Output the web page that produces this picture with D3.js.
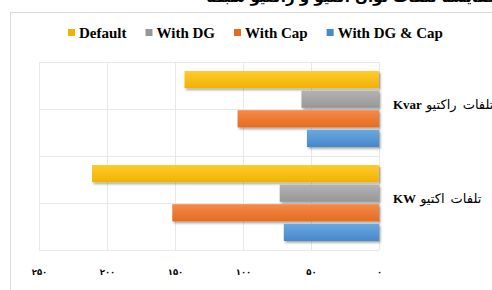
<!DOCTYPE html>
<html>
<head>
<meta charset="utf-8">
<script src="https://cdn.jsdelivr.net/npm/d3@7"></script>
<style>
  body { margin: 0; background: #fff; overflow: hidden; }
  svg { display: block; }
</style>
</head>
<body>
<div id="chart"></div>
<script>
// categories top to bottom: unit part and Persian part of each label
const categories = ["Kvar", "KW"];
const categoryFa = ["تلفات راکتیو", "تلفات اکتیو"];
const seriesNames = ["Default", "With DG", "With Cap", "With DG & Cap"];
const seriesColors = [["#ffcb2e", "#efb300"], ["#b3b3b3", "#979797"], ["#f58a48", "#e46c20"], ["#6aa8de", "#4688cb"]];
const defaultVals = [143, 211];
const withDG = [57, 73];
const withCap = [104, 152];
const withDGCap = [53, 70];
const xTicks = [0, 50, 100, 150, 200, 250];
const faDigits = "۰۱۲۳۴۵۶۷۸۹";

const values = [defaultVals, withDG, withCap, withDGCap];
const W = 492, H = 290;
const margin = { top: 62, left: 39, right: 113, bottom: 40 };
const innerW = W - margin.left - margin.right,
  innerH = H - margin.top - margin.bottom;

const svg = d3.select("#chart").append("svg")
  .attr("width", W)
  .attr("height", H);

const defs = svg.append("defs");
seriesColors.forEach((c, i) => {
  const g = defs.append("linearGradient")
    .attr("id", "grad" + i)
    .attr("x1", 0).attr("y1", 0).attr("x2", 0).attr("y2", 1);
  g.append("stop").attr("offset", "0%").attr("stop-color", c[0]);
  g.append("stop").attr("offset", "100%").attr("stop-color", c[1]);
});
defs.append("filter").attr("id", "shadow")
  .attr("x", "-5%").attr("y", "-20%").attr("width", "115%").attr("height", "160%")
  .append("feDropShadow")
  .attr("dx", 1.5).attr("dy", 1.8).attr("stdDeviation", 1)
  .attr("flood-color", "#000").attr("flood-opacity", 0.35);

// chart frame (runs past the window on right and bottom)
svg.append("rect")
  .attr("x", 10.5).attr("y", 12.5)
  .attr("width", 500).attr("height", 300)
  .attr("fill", "none")
  .attr("stroke", "#d9d9d9");

// title, mostly cut by the top edge as in the picture
svg.append("text")
  .attr("x", 352).attr("y", 2)
  .attr("text-anchor", "middle")
  .style("font-family", "'DejaVu Sans', sans-serif")
  .style("font-weight", "bold")
  .style("font-size", "15px")
  .text("مقایسه تلفات توان اکتیو و راکتیو شبکه");

const g = svg.append("g")
  .attr("transform", "translate(" + margin.left + "," + margin.top + ")");

const x = d3.scaleLinear().domain([0, 250]).range([innerW, 0]);
const y0 = d3.scaleBand().domain(categories).range([0, innerH]);
const y1 = d3.scaleBand().domain(seriesNames)
  .range([9, y0.bandwidth() - 9])
  .paddingInner(0.12);

// vertical gridlines
g.append("g")
  .selectAll("line")
  .data(xTicks)
  .join("line")
  .attr("x1", d => Math.round(x(d)) + 0.5)
  .attr("x2", d => Math.round(x(d)) + 0.5)
  .attr("y1", 0).attr("y2", innerH)
  .attr("stroke", "#e8e8e8");

// horizontal gridlines at category edges and middles
const hLines = [];
categories.forEach(c => {
  hLines.push(y0(c));
  hLines.push(y0(c) + y0.bandwidth() / 2);
});
hLines.push(innerH);
g.append("g")
  .selectAll("line")
  .data(hLines)
  .join("line")
  .attr("x1", 0).attr("x2", innerW)
  .attr("y1", d => Math.round(d) + 0.5)
  .attr("y2", d => Math.round(d) + 0.5)
  .attr("stroke", "#e8e8e8");

// bars
seriesNames.forEach((s, i) => {
  g.append("g")
    .attr("filter", "url(#shadow)")
    .selectAll("rect")
    .data(categories.map((c, j) => ({ c: c, v: values[i][j] })))
    .join("rect")
    .attr("x", d => x(d.v))
    .attr("y", d => y0(d.c) + y1(s))
    .attr("width", d => x(0) - x(d.v))
    .attr("height", y1.bandwidth())
    .attr("fill", "url(#grad" + i + ")");
});

// x axis, Persian digits
const xAxis = g.append("g")
  .attr("transform", "translate(0," + innerH + ")")
  .call(d3.axisBottom(x)
    .tickValues(xTicks)
    .tickSize(0)
    .tickPadding(19)
    .tickFormat(d => String(d).replace(/\d/g, m => faDigits[+m])));
xAxis.select(".domain").remove();
xAxis.selectAll("text")
  .style("font-family", "'DejaVu Sans', sans-serif")
  .style("font-weight", "bold")
  .style("font-size", "8.5px")
  .attr("fill", "#000");

// category labels on the right: right-to-left label, so the unit sits on the left
// and the Persian words run on to the window edge
const labelLeft = innerW + 14;
categories.forEach((c, j) => {
  const cy = y0(c) + y0.bandwidth() / 2 - 4.5;
  const latin = g.append("text")
    .attr("x", labelLeft).attr("y", cy)
    .attr("dy", "0.35em")
    .style("font-family", "'Liberation Serif', serif")
    .style("font-weight", "bold")
    .style("font-size", "13px")
    .text(c);
  g.append("text")
    .attr("x", labelLeft + latin.node().getComputedTextLength() + 4)
    .attr("y", cy)
    .attr("dy", "0.35em")
    .style("font-family", "'DejaVu Sans', sans-serif")
    .style("font-size", "13px")
    .style("word-spacing", "2px")
    .text(categoryFa[j]);
});

// legend
const legend = svg.append("g").attr("transform", "translate(68,33)");
let lx = 0;
seriesNames.forEach((s, i) => {
  const item = legend.append("g").attr("transform", "translate(" + lx + ",0)");
  item.append("rect")
    .attr("x", 0).attr("y", -4)
    .attr("width", 7).attr("height", 7)
    .attr("fill", seriesColors[i][1]);
  const t = item.append("text")
    .attr("x", 11).attr("y", 0)
    .attr("dy", "0.35em")
    .style("font-family", "'Liberation Serif', serif")
    .style("font-weight", "bold")
    .style("font-size", "15px")
    .text(s);
  lx += 11 + t.node().getComputedTextLength() + 19;
});
</script>
</body>
</html>
